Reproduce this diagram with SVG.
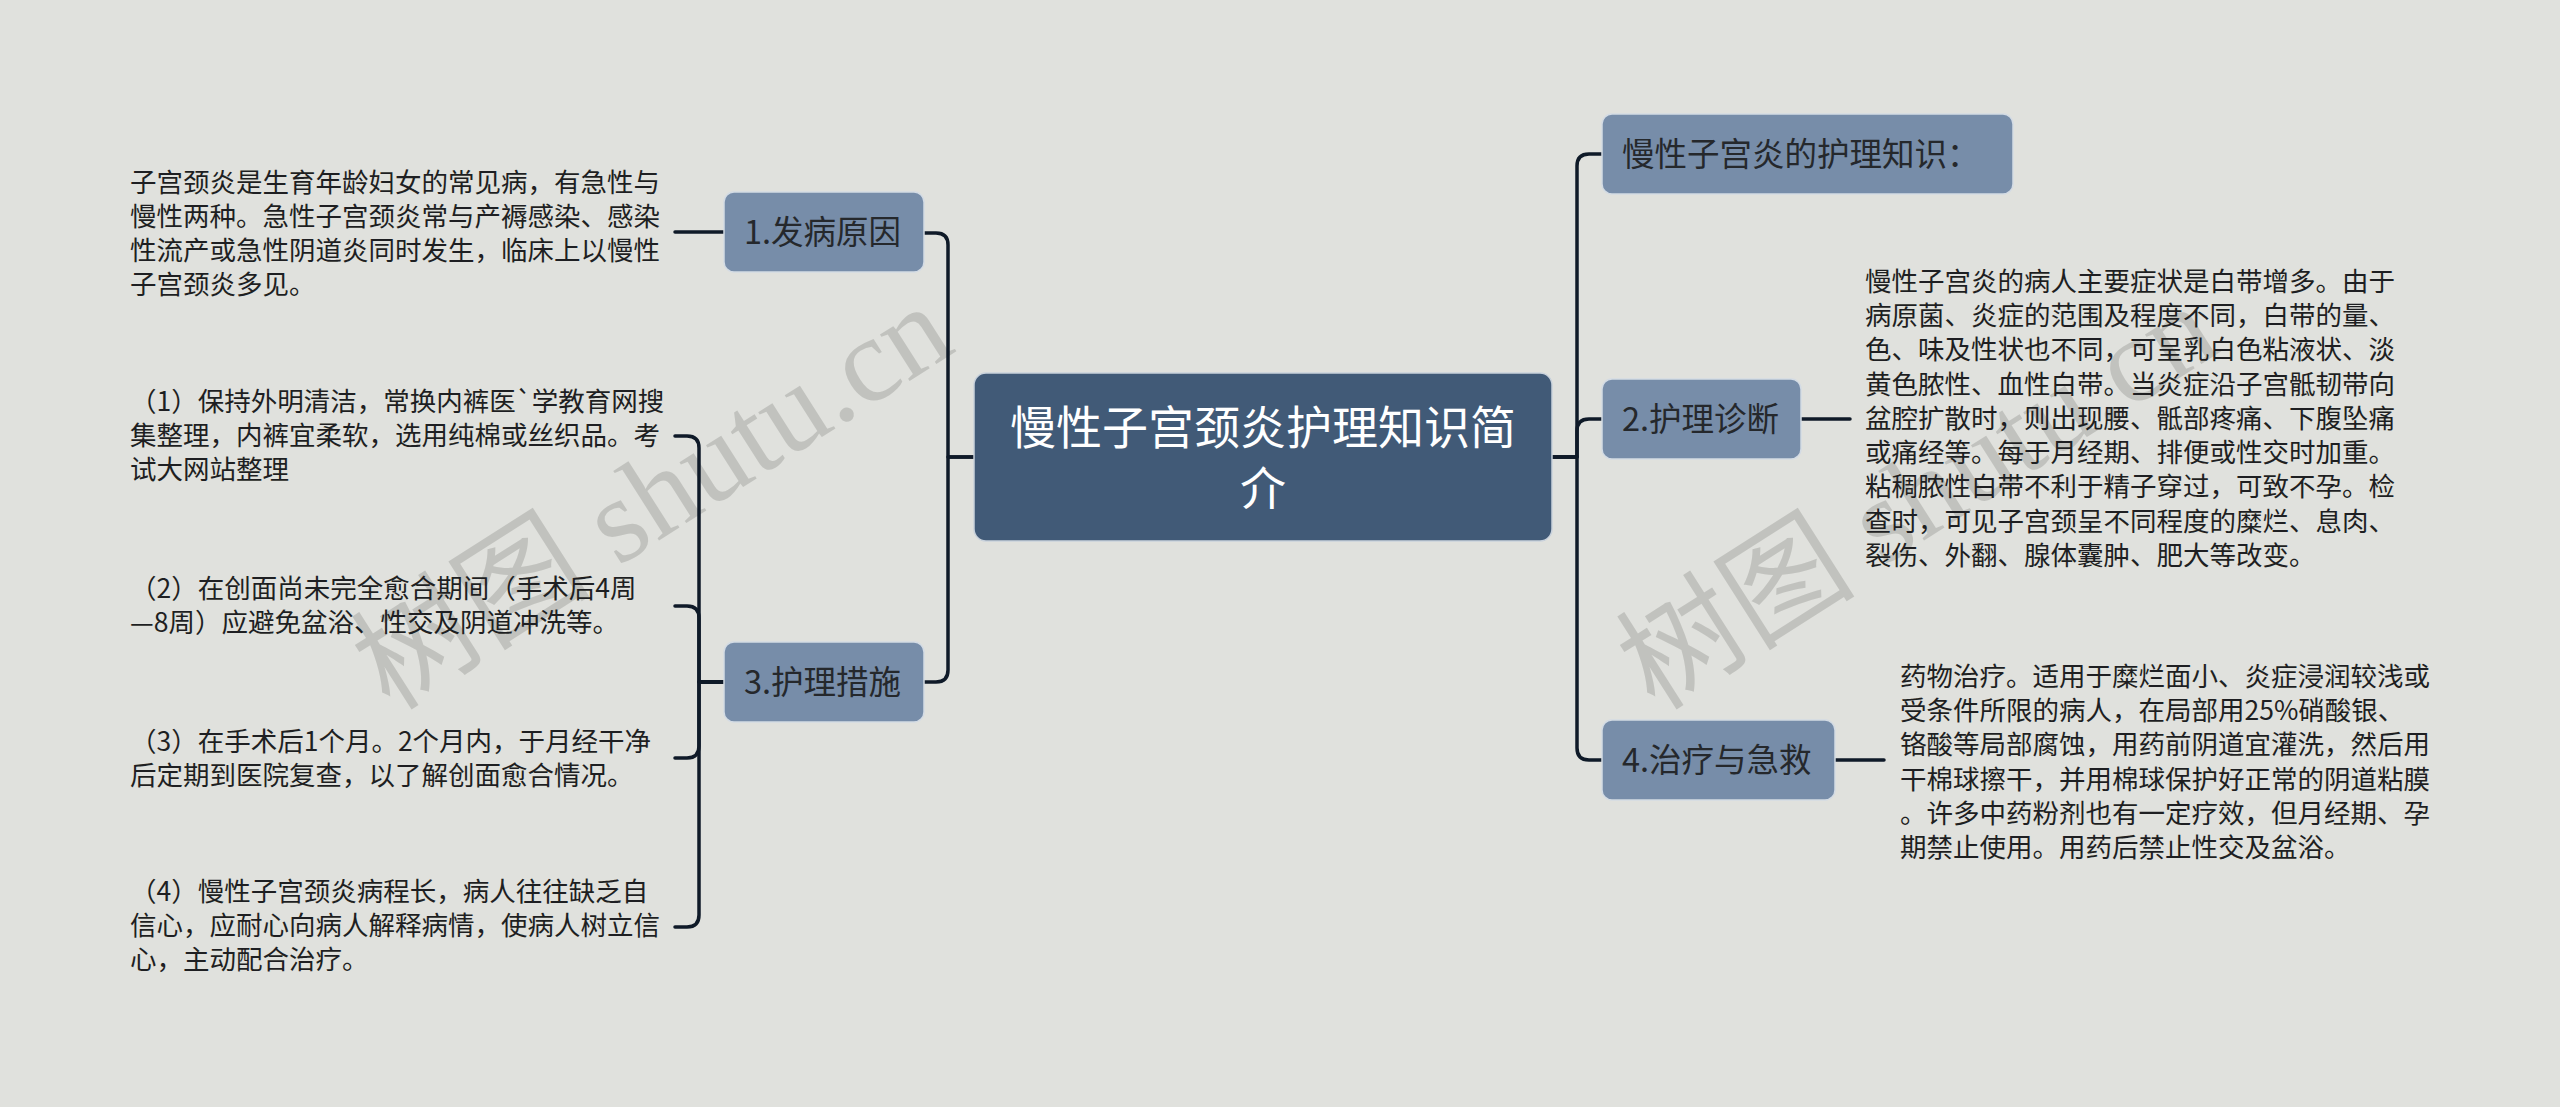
<svg xmlns="http://www.w3.org/2000/svg" width="2560" height="1107" viewBox="0 0 2560 1107">
<style>
.bg{fill:#e0e1dd}
.wm{font-family:"Liberation Serif","Noto Sans CJK SC",serif;font-size:120px;fill:#a9aaa6;opacity:0.55}
.root rect{fill:#415a77;stroke:#c9d2dc;stroke-width:1.5}
.root text{font-family:"Noto Sans CJK SC","Noto Sans",sans-serif;font-size:46px;fill:#ffffff;text-anchor:middle}
.br rect{fill:#778da9;stroke:#d3dbe4;stroke-width:1.5}
.br text{font-family:"Noto Sans CJK SC","Noto Sans",sans-serif;font-size:32.5px;fill:#25282c}
.leaf text{font-family:"Noto Sans CJK SC","Noto Sans",sans-serif;font-size:26.5px;fill:#1e1f22}
.conn path{fill:none;stroke:#0f1a28;stroke-width:3.5;stroke-linecap:round;stroke-linejoin:round}
</style>
<rect class="bg" x="0" y="0" width="2560" height="1107"/>
<g id="watermarks">
<text class="wm" x="390" y="712" transform="rotate(-32.5 390 712)">树图 shutu.cn</text>
<text class="wm" x="1655" y="712" transform="rotate(-32.5 1655 712)">树图 shutu.cn</text>
</g>
<g id="connectors" class="conn">
<path d="M974 457 H948 V245 Q948 233 936 233 H923"/>
<path d="M974 457 H948 V670 Q948 682 936 682 H923"/>
<path d="M1552 457 H1577 V166 Q1577 154 1589 154 H1602"/>
<path d="M1552 457 H1577 V431 Q1577 419 1589 419 H1602"/>
<path d="M1552 457 H1577 V748 Q1577 760 1589 760 H1602"/>
<path d="M724 232 H675"/>
<path d="M724 682 H699 V448 Q699 436 687 436 H675"/>
<path d="M724 682 H699 V618 Q699 606 687 606 H675"/>
<path d="M724 682 H699 V746 Q699 758 687 758 H675"/>
<path d="M724 682 H699 V915 Q699 927 687 927 H675"/>
<path d="M1801 419 H1850"/>
<path d="M1835 760 H1884"/>
</g>
<g id="root" class="root">
<rect x="974" y="373" width="578" height="168" rx="12"/>
<text x="1263" y="444">慢性子宫颈炎护理知识简</text>
<text x="1263" y="505">介</text>
</g>
<g id="b1" class="br">
<rect x="724" y="192" width="200" height="80" rx="10"/>
<text x="744" y="244">1.发病原因</text>
</g>
<g id="b3" class="br">
<rect x="724" y="642" width="200" height="80" rx="10"/>
<text x="744" y="694">3.护理措施</text>
</g>
<g id="r1" class="br">
<rect x="1602" y="114" width="411" height="80" rx="10"/>
<text x="1622" y="166">慢性子宫炎的护理知识：</text>
</g>
<g id="r2" class="br">
<rect x="1602" y="379" width="199" height="80" rx="10"/>
<text x="1622" y="431">2.护理诊断</text>
</g>
<g id="r4" class="br">
<rect x="1602" y="720" width="233" height="80" rx="10"/>
<text x="1622" y="772">4.治疗与急救</text>
</g>
<g id="leaf1" class="leaf">
<text x="130" y="192">子宫颈炎是生育年龄妇女的常见病，有急性与</text>
<text x="130" y="226">慢性两种。急性子宫颈炎常与产褥感染、感染</text>
<text x="130" y="260">性流产或急性阴道炎同时发生，临床上以慢性</text>
<text x="130" y="294">子宫颈炎多见。</text>
</g>
<g id="leaf3a" class="leaf">
<text x="130" y="411">（1）保持外明清洁，常换内裤医`学教育网搜</text>
<text x="130" y="445">集整理，内裤宜柔软，选用纯棉或丝织品。考</text>
<text x="130" y="479">试大网站整理</text>
</g>
<g id="leaf3b" class="leaf">
<text x="130" y="598">（2）在创面尚未完全愈合期间（手术后4周</text>
<text x="130" y="632">—8周）应避免盆浴、性交及阴道冲洗等。</text>
</g>
<g id="leaf3c" class="leaf">
<text x="130" y="751">（3）在手术后1个月。2个月内，于月经干净</text>
<text x="130" y="785">后定期到医院复查，以了解创面愈合情况。</text>
</g>
<g id="leaf3d" class="leaf">
<text x="130" y="901">（4）慢性子宫颈炎病程长，病人往往缺乏自</text>
<text x="130" y="935">信心，应耐心向病人解释病情，使病人树立信</text>
<text x="130" y="969">心，主动配合治疗。</text>
</g>
<g id="leaf2" class="leaf">
<text x="1865" y="291">慢性子宫炎的病人主要症状是白带增多。由于</text>
<text x="1865" y="325">病原菌、炎症的范围及程度不同，白带的量、</text>
<text x="1865" y="359">色、味及性状也不同，可呈乳白色粘液状、淡</text>
<text x="1865" y="394">黄色脓性、血性白带。当炎症沿子宫骶韧带向</text>
<text x="1865" y="428">盆腔扩散时，则出现腰、骶部疼痛、下腹坠痛</text>
<text x="1865" y="462">或痛经等。每于月经期、排便或性交时加重。</text>
<text x="1865" y="496">粘稠脓性白带不利于精子穿过，可致不孕。检</text>
<text x="1865" y="531">查时，可见子宫颈呈不同程度的糜烂、息肉、</text>
<text x="1865" y="565">裂伤、外翻、腺体囊肿、肥大等改变。</text>
</g>
<g id="leaf4" class="leaf">
<text x="1900" y="686">药物治疗。适用于糜烂面小、炎症浸润较浅或</text>
<text x="1900" y="720">受条件所限的病人，在局部用25%硝酸银、</text>
<text x="1900" y="754">铬酸等局部腐蚀，用药前阴道宜灌洗，然后用</text>
<text x="1900" y="789">干棉球擦干，并用棉球保护好正常的阴道粘膜</text>
<text x="1900" y="823">。许多中药粉剂也有一定疗效，但月经期、孕</text>
<text x="1900" y="857">期禁止使用。用药后禁止性交及盆浴。</text>
</g>
</svg>
